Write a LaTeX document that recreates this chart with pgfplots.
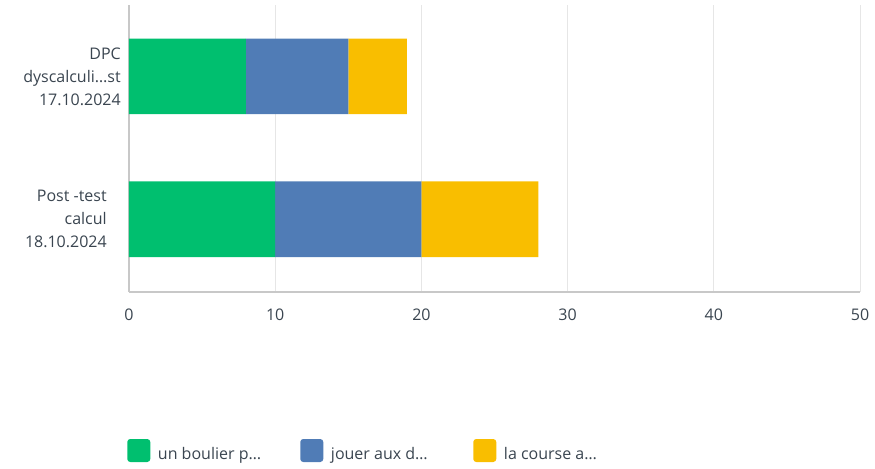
\documentclass[border=0pt]{standalone}
\usepackage{fontspec}
\setmainfont{Open Sans}
\usepackage{pgfplots}
\pgfplotsset{compat=1.18}
\definecolor{cgreen}{HTML}{00BF6F}
\definecolor{cblue}{HTML}{507CB6}
\definecolor{cyellow}{HTML}{F9BE00}
\definecolor{ctext}{HTML}{3A4550}
\definecolor{cgrid}{HTML}{E6E6E6}
\definecolor{caxis}{HTML}{C8C8C8}
\newcommand{\pad}{\rule{10.5pt}{0pt}}
\begin{document}
\fontsize{12pt}{17.25pt}\selectfont
\begin{tikzpicture}
\useasboundingbox (-96.75pt,-132pt) rectangle (559.5pt,219pt);
\begin{axis}[
  at={(0,0)}, anchor=south west,
  scale only axis,
  width=548.25pt, height=215.25pt,
  xbar stacked,
  bar width=0.53,
  xmin=0, xmax=50,
  ymin=-0.51, ymax=1.5,
  xtick={0,10,20,30,40,50},
  ytick={0,1},
  yticklabels={{Post -test\pad\\calcul\pad\\18.10.2024\pad},{DPC\\dyscalculi…st\\17.10.2024}},
  yticklabel style={align=right, text=ctext, font=\fontsize{12pt}{17.25pt}\selectfont, xshift=-2pt},
  xticklabel style={text=ctext, font=\fontsize{12pt}{17.25pt}\selectfont, yshift=-8.25pt},
  /pgf/number format/assume math mode=true,
  major tick length=0pt,
  xmajorgrids, grid style={cgrid, line width=0.75pt},
  axis x line*=bottom, axis y line*=left,
  axis line style={caxis, line width=1pt, -},
  legend columns=3,
  legend style={draw=none, fill=none, at={(-0.0027,-0.5575)}, anchor=west, inner sep=0pt,
    font=\fontsize{12pt}{17.25pt}\selectfont, text=ctext,
    /tikz/every even column/.append style={column sep=0pt}},
  legend cell align=left,
  legend image code/.code={\fill[#1, rounded corners=2.25pt] (0pt,-5.2pt) rectangle (17.25pt,12.05pt);},
]
\addplot[fill=cgreen, draw=none] coordinates {(10,0) (8,1)};
\addplot[fill=cblue, draw=none] coordinates {(10,0) (7,1)};
\addplot[fill=cyellow, draw=none] coordinates {(8,0) (4,1)};
\legend{\makebox[108.5pt][l]{\hspace{3.75pt}un boulier p…},\makebox[108.5pt][l]{\hspace{3.75pt}jouer aux d…},\makebox[108.5pt][l]{\hspace{3.75pt}la course a…}}
\end{axis}
\end{tikzpicture}
\end{document}
